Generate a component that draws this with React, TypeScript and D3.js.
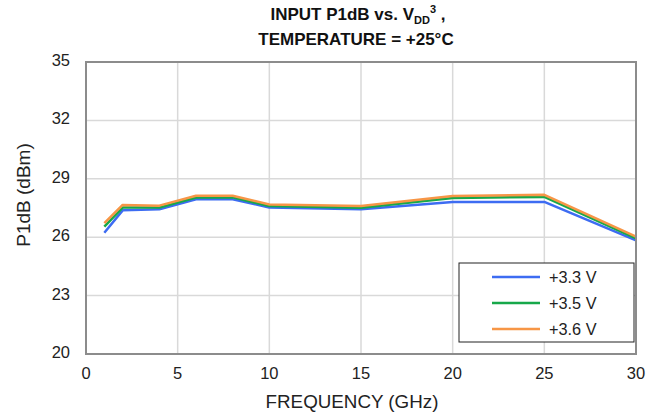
import React from "react";
import * as d3 from "d3";

const freqs = [1, 2, 4, 6, 8, 10, 15, 20, 25, 30];
const v33 = [26.23, 27.38, 27.43, 27.95, 27.95, 27.53, 27.43, 27.81, 27.81, 25.84];
const v35 = [26.54, 27.52, 27.52, 28.04, 28.05, 27.6, 27.51, 28.01, 28.07, 25.94];
const v36 = [26.72, 27.66, 27.62, 28.13, 28.13, 27.68, 27.6, 28.12, 28.18, 26.03];
const seriesNames = ["+3.3 V", "+3.5 V", "+3.6 V"];
const seriesColors = ["#3d6cf2", "#17a84a", "#f79646"];
const xTicks = [0, 5, 10, 15, 20, 25, 30];
const yTicks = [20, 23, 26, 29, 32, 35];

const W = 662, H = 417;
const L = 86, R = 636, T = 62, B = 354;

export default function App() {
  const x = d3.scaleLinear().domain([0, 30]).range([L, R]);
  const y = d3.scaleLinear().domain([20, 35]).range([B, T]);
  const line = d3.line<number>().x((_, i) => x(freqs[i])).y((d) => y(d));
  const all = [v33, v35, v36];
  const font = "'Liberation Sans', Arial, sans-serif";
  return (
    <svg width={W} height={H} style={{ position: "absolute", left: 0, top: 0 }} fontFamily={font}>
      <rect width={W} height={H} fill="#fff" />
      {yTicks.map((t) => (
        <line key={"gy" + t} x1={L} x2={R} y1={y(t)} y2={y(t)} stroke="#d9d9d9" strokeWidth={1.5} />
      ))}
      {xTicks.map((t) => (
        <line key={"gx" + t} x1={x(t)} x2={x(t)} y1={T} y2={B} stroke="#d9d9d9" strokeWidth={1.5} />
      ))}
      {all.map((s, i) => (
        <path key={"s" + i} d={line(s) || ""} fill="none" stroke={seriesColors[i]} strokeWidth={2.5} strokeLinejoin="round" />
      ))}
      <rect x={L} y={T} width={R - L} height={B - T} fill="none" stroke="#8c8c8c" strokeWidth={2} />
      {yTicks.map((t) => (
        <text key={"ty" + t} x={70} y={y(t) + 4} textAnchor="end" fontSize={16.5} fill="#222">{t}</text>
      ))}
      {xTicks.map((t) => (
        <text key={"tx" + t} x={x(t)} y={379} textAnchor="middle" fontSize={16.5} fill="#222">{t}</text>
      ))}
      <text x={352} y={408} textAnchor="middle" fontSize={18.8} fill="#222">FREQUENCY (GHz)</text>
      <text transform={`translate(30,195) rotate(-90)`} textAnchor="middle" fontSize={19} fill="#222">P1dB (dBm)</text>
      <text x={358} y={20} textAnchor="middle" fontSize={17} fontWeight="bold" fill="#111">
        INPUT P1dB vs. V<tspan fontSize={11} dy={4}>DD</tspan><tspan fontSize={11} dy={-11}>3</tspan><tspan dy={7}> ,</tspan>
      </text>
      <text x={356} y={45} textAnchor="middle" fontSize={17} fontWeight="bold" fill="#111">TEMPERATURE = +25°C</text>
      <rect x={459} y={263} width={175} height={79} fill="#fff" stroke="#222" strokeWidth={1} />
      {seriesNames.map((n, i) => (
        <g key={"lg" + i}>
          <line x1={492} x2={540} y1={277 + i * 26} y2={277 + i * 26} stroke={seriesColors[i]} strokeWidth={2.5} />
          <text x={549} y={282.5 + i * 26} fontSize={16.3} fill="#222">{n}</text>
        </g>
      ))}
    </svg>
  );
}
